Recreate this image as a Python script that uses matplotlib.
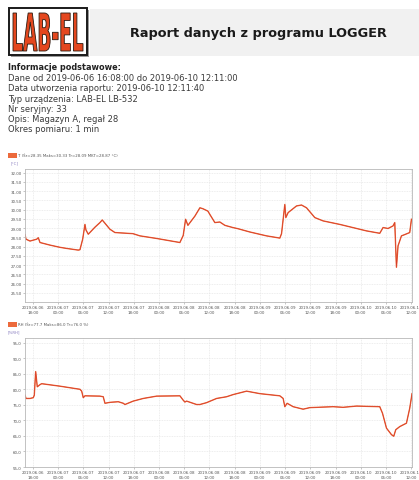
"""Raport danych z programu LOGGER - LAB-EL LB-532 temperature / humidity report."""
from datetime import datetime, timedelta

import numpy as np
import matplotlib
matplotlib.use("Agg")
import matplotlib.pyplot as plt
from matplotlib.patches import Rectangle, PathPatch
from matplotlib.textpath import TextPath
from matplotlib.font_manager import FontProperties
from matplotlib.transforms import Affine2D

START = datetime(2019, 6, 6, 16, 8)
END = datetime(2019, 6, 10, 12, 11)

TITLE = "Raport danych z programu LOGGER"
INFO_HEAD = "Informacje podstawowe:"
INFO_LINES = [
    "Dane od 2019-06-06 16:08:00 do 2019-06-10 12:11:00",
    "Data utworzenia raportu: 2019-06-10 12:11:40",
    "Typ urządzenia: LAB-EL LB-532",
    "Nr seryjny: 33",
    "Opis: Magazyn A, regał 28",
    "Okres pomiaru: 1 min",
]

# temperature, hours since START -> degC
T_HOURS = [0.0, 0.24, 1.19, 2.78, 3.16, 3.57, 5.94, 8.32, 9.91, 12.67, 13.07,
           13.72, 14.26, 14.50, 15.05, 16.64, 17.83, 18.37, 20.20, 21.39,
           25.67, 27.34, 31.30, 36.84, 37.63, 38.20, 38.75, 40.41, 41.60,
           42.31, 43.50, 43.97, 45.16, 46.35, 47.54, 49.44, 50.63, 53.48,
           57.45, 60.61, 61.02, 61.80, 62.04, 62.59, 64.58, 65.77, 66.96,
           68.93, 70.91, 74.88, 77.97, 81.22, 84.38, 85.17, 86.36, 87.54,
           87.95, 88.35, 88.73, 89.54, 90.33, 91.51, 91.92]
T_VALUES = [28.65, 28.40, 28.30, 28.40, 28.48, 28.22, 28.08, 27.96, 27.90,
            27.81, 27.83, 28.40, 29.20, 28.90, 28.67, 29.05, 29.30, 29.44,
            28.94, 28.76, 28.70, 28.58, 28.44, 28.22, 28.60, 29.48, 29.15,
            29.65, 30.10, 30.05, 29.92, 29.74, 29.30, 29.33, 29.15, 29.03,
            28.97, 28.79, 28.58, 28.46, 28.70, 30.28, 29.57, 29.84, 30.20,
            30.25, 30.10, 29.57, 29.39, 29.20, 29.03, 28.85, 28.72, 29.03,
            28.98, 29.12, 29.30, 26.88, 28.04, 28.58, 28.65, 28.76, 29.48]

# relative humidity, hours since START -> %RH
RH_HOURS = [0.0, 0.24, 1.19, 1.97, 2.21, 2.54, 2.92, 3.57, 3.97, 8.32, 13.07,
            13.48, 13.86, 14.26, 17.83, 18.61, 19.02, 20.20, 22.18, 23.37,
            23.77, 25.74, 28.12, 31.30, 36.84, 37.63, 38.03, 38.44, 40.81,
            41.60, 43.19, 45.57, 47.94, 49.51, 52.70, 55.86, 60.61, 61.40,
            61.80, 62.35, 63.78, 66.15, 67.74, 73.28, 75.66, 78.85, 84.38,
            85.03, 85.98, 87.17, 87.71, 88.19, 89.14, 90.73, 91.51, 92.06]
RH_VALUES = [78.1, 77.05, 77.05, 77.3, 78.1, 85.7, 80.8, 81.5, 81.8, 81.0,
             80.0, 79.4, 77.3, 77.9, 77.8, 77.6, 75.5, 75.8, 76.0, 75.5, 75.1,
             76.2, 77.05, 77.8, 77.9, 76.5, 75.9, 76.2, 75.1, 75.1, 75.7,
             77.05, 77.6, 78.3, 79.4, 78.6, 77.9, 77.05, 74.4, 75.5, 74.4,
             73.6, 74.1, 74.4, 74.2, 74.6, 74.4, 72.3, 67.5, 65.4, 64.9, 67.0,
             68.0, 69.1, 73.9, 78.6]

T_TICKS = [25.5 + 0.5 * i for i in range(14)]
RH_TICKS = [55, 60, 65, 70, 75, 80, 85, 90, 95]

T_LEGEND = "T (Śr=28.35 Maks=30.33 Tr=28.09 MKT=28.87 °C)"
RH_LEGEND = "RH (Śr=77.7 Maks=86.0 Tr=76.0 %)"

LINE = "#ec6a3c"
LINE_CORE = "#d63c2a"
W, H = 419, 481

fig = plt.figure(figsize=(W / 100, H / 100), dpi=100)
fig.patch.set_facecolor("white")

# overlay in pixel coordinates for the report header
ov = fig.add_axes([0, 0, 1, 1], zorder=0)
ov.set_xlim(0, W)
ov.set_ylim(H, 0)
ov.axis("off")

ov.add_patch(Rectangle((90, 10), W - 90, 47, color="#f1f1f1", lw=0))
ov.add_patch(Rectangle((11, 11), 78, 47, color="#9a9a9a", lw=0))
ov.add_patch(Rectangle((9, 9), 78, 47, facecolor="white",
                       edgecolor="#1a1a1a", lw=1.4))

tp = TextPath((0, 0), "LAB-EL", prop=FontProperties(family="DejaVu Sans",
                                                     weight="bold"))
ext = tp.get_extents()
sx = 70 / ext.width
sy = 38 / ext.height
tr = (Affine2D().translate(-ext.x0, -ext.y0).scale(sx, -sy)
      .translate(13, 52) + ov.transData)
ov.add_patch(PathPatch(tp, transform=tr, facecolor="#e4471e",
                       edgecolor="#2a1a10", lw=0.6))

ov.text(130, 33, TITLE, fontsize=9.3, fontweight="bold", color="#1a1a1a",
        va="center", ha="left")

ov.text(8, 68, INFO_HEAD, fontsize=5.9, fontweight="bold", color="#222222",
        va="center")
for i, line in enumerate(INFO_LINES):
    ov.text(8, 78.5 + 10.3 * i, line, fontsize=6.0, color="#3a3a3a",
            va="center")

ov.add_patch(Rectangle((8, 154), 9, 5, color=LINE, lw=0))
ov.text(18, 156.5, T_LEGEND, fontsize=2.8, color="#555555", va="center")
ov.text(11, 163, "[°C]", fontsize=2.8, color="#8a7fc0", va="center")
ov.add_patch(Rectangle((8, 323), 9, 5, color=LINE, lw=0))
ov.text(18, 325.5, RH_LEGEND, fontsize=2.8, color="#555555", va="center")
ov.text(8, 332, "[%RH]", fontsize=2.8, color="#8a7fc0", va="center")

tick_times = [datetime(2019, 6, 6, 18, 0) + timedelta(hours=6 * k)
              for k in range(16)]
tick_hours = [(t - START).total_seconds() / 3600 for t in tick_times]
tick_labels = [f"{t:%Y.%m.%d}\n{t:%H:%M}" for t in tick_times]
span = (END - START).total_seconds() / 3600


def chart(rect, hours, values, yticks, ylim, fmt):
    ax = fig.add_axes(rect, zorder=2)
    ax.plot(hours, values, color=LINE, lw=1.0, solid_joinstyle="round")
    ax.plot(hours, values, color=LINE_CORE, lw=0.45)
    ax.set_xlim(0, span)
    ax.set_ylim(*ylim)
    ax.set_yticks(yticks)
    ax.set_yticklabels([fmt(v) for v in yticks])
    ax.set_xticks(tick_hours)
    ax.set_xticklabels(tick_labels)
    ax.tick_params(labelsize=2.9, length=1.5, width=0.4, color="#999999",
                   labelcolor="#555555", pad=1)
    ax.grid(True, color="#dcdcdc", lw=0.4, ls=(0, (1.5, 1.5)))
    for s in ax.spines.values():
        s.set_color("#b8b8b8")
        s.set_linewidth(0.6)
    return ax


chart([25 / W, 1 - 303 / H, 387 / W, 133 / H], T_HOURS, T_VALUES, T_TICKS,
      (25.0, 32.2), lambda v: f"{v:.2f}")
chart([25 / W, 1 - 468 / H, 387 / W, 129 / H], RH_HOURS, RH_VALUES, RH_TICKS,
      (55.0, 96.5), lambda v: f"{v:.1f}".replace(".", ","))

fig.savefig("out.png", dpi=100)
plt.close(fig)
